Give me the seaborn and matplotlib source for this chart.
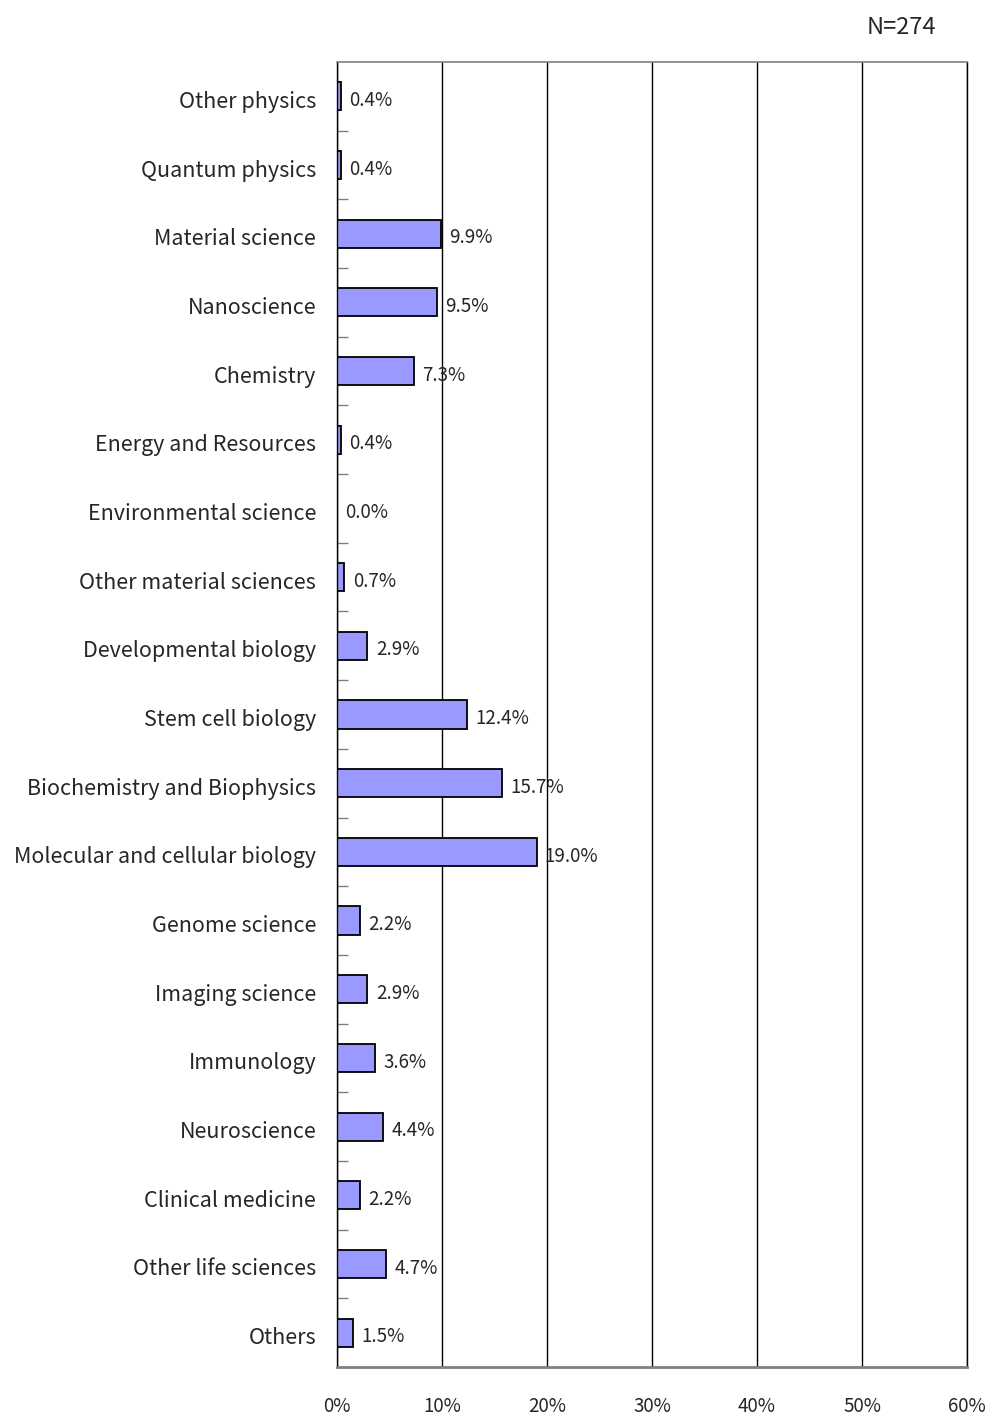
import matplotlib
matplotlib.use('Agg')
import matplotlib.pyplot as plt
import matplotlib.transforms as mtransforms
import seaborn as sns
import pandas as pd
import numpy as np
from matplotlib.ticker import FixedLocator

categories = [
    "Other physics", "Quantum physics", "Material science", "Nanoscience",
    "Chemistry", "Energy and Resources", "Environmental science",
    "Other material sciences", "Developmental biology", "Stem cell biology",
    "Biochemistry and Biophysics", "Molecular and cellular biology",
    "Genome science", "Imaging science", "Immunology", "Neuroscience",
    "Clinical medicine", "Other life sciences", "Others",
]
values = [0.4, 0.4, 9.9, 9.5, 7.3, 0.4, 0.0, 0.7, 2.9, 12.4, 15.7, 19.0,
          2.2, 2.9, 3.6, 4.4, 2.2, 4.7, 1.5]
xticks = [0, 10, 20, 30, 40, 50, 60]
xticklabels = ["0%", "10%", "20%", "30%", "40%", "50%", "60%"]
n_label = "N=274"

sns.set_theme(style="white")
plt.rcParams['font.family'] = ['Noto Sans CJK JP', 'DejaVu Sans']

W, H = 987, 1415
fig = plt.figure(figsize=(W / 100, H / 100), dpi=100)
ax = fig.add_axes([337 / W, 1 - 1367 / H, 630 / W, 1305 / H])

df = pd.DataFrame({"cat": categories, "val": values})
sns.barplot(data=df, x="val", y="cat", orient="h", color="#9999FF",
            saturation=1, edgecolor="black", linewidth=1.3, width=0.41,
            ax=ax, errorbar=None)

ax.set_xlim(0, 60)
ax.set_ylim(len(categories) - 0.5, -0.5)
ax.set_xlabel("")
ax.set_ylabel("")

ax.set_xticks(xticks)
ax.set_xticklabels(xticklabels, fontsize=13.5)
ax.tick_params(axis='x', length=0, pad=21)
ax.xaxis.grid(True, color='black', linewidth=1)
ax.yaxis.grid(False)
ax.set_axisbelow(True)

ax.set_yticks(range(len(categories)))
ax.set_yticklabels(categories, fontsize=15.5)
ax.tick_params(axis='y', which='major', length=0, pad=15)
down = mtransforms.ScaledTranslation(0, -3 / 100, fig.dpi_scale_trans)
for lbl in ax.get_yticklabels():
    lbl.set_transform(lbl.get_transform() + down)
ax.yaxis.set_minor_locator(FixedLocator(np.arange(0.5, len(categories) - 1, 1)))
ax.tick_params(axis='y', which='minor', direction='in', length=8,
               color='#808080', width=1, left=True)

for s in ['left', 'right']:
    ax.spines[s].set_color('black')
    ax.spines[s].set_linewidth(1)
ax.spines['top'].set_color('#808080')
ax.spines['top'].set_linewidth(1.2)
ax.spines['bottom'].set_color('#808080')
ax.spines['bottom'].set_linewidth(2)

for i, v in enumerate(values):
    ax.annotate(f"{v:.1f}%", (v, i), xytext=(6, -3), textcoords='offset points',
                va='center', ha='left', fontsize=13.5)

fig.text(936 / W, 1 - 27 / H, n_label, ha='right', va='center', fontsize=17)

fig.savefig("out.png", dpi=100)
